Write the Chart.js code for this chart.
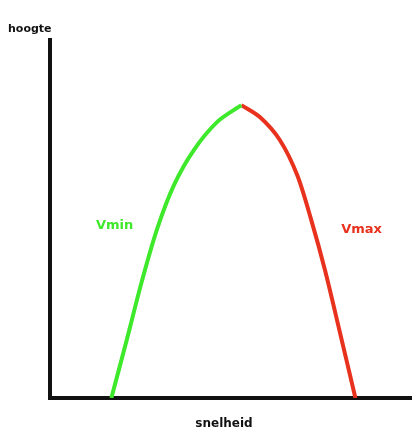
<!DOCTYPE html>
<html>
<head>
<meta charset="utf-8">
<script src="https://cdn.jsdelivr.net/npm/chart.js@4.4.0/dist/chart.umd.min.js"></script>
<style>
  html, body { margin: 0; padding: 0; background: #fff; }
  #wrap { width: 414px; height: 435px; position: relative; }
</style>
</head>
<body>
<div id="wrap"><canvas id="chart"></canvas></div>
<script>
// curve (x = snelheid, y = hoogte, both 0..100)
const vminX = [17.0, 21.2, 25.5, 29.7, 34.3, 39.8, 46.4, 53.0];
const vminY = [0, 16.0, 32.8, 47.3, 59.4, 69.2, 77.2, 81.8];
const vmaxX = [53.0, 58.2, 63.7, 68.5, 72.4, 76.2, 80.2, 84.6];
const vmaxY = [81.8, 78.4, 72.0, 62.2, 49.6, 35.6, 18.8, 0];

const yTitle = "hoogte";
const xTitle = "snelheid";
const seriesLabels = ["Vmin", "Vmax"];

const green = "#3ee82a";
const red = "#e8321e";

const toPoints = (xs, ys) => xs.map((x, i) => ({ x, y: ys[i] }));

// text labels drawn on top of the chart
const labelPlugin = {
    id: "labels",
    afterDraw(chart) {
        const c = chart.ctx;
        const xs = chart.scales.x, ys = chart.scales.y;
        const area = chart.chartArea;
        c.save();
        c.font = "bold 13px 'DejaVu Sans'";
        c.textAlign = "center";
        c.textBaseline = "middle";
        c.fillStyle = green;
        c.fillText(seriesLabels[0], xs.getPixelForValue(17.9), ys.getPixelForValue(48.2));
        c.fillStyle = red;
        c.fillText(seriesLabels[1], xs.getPixelForValue(86.3), ys.getPixelForValue(47.0));
        c.fillStyle = "#111";
        c.font = "bold 11px 'DejaVu Sans'";
        c.textAlign = "left";
        c.fillText(yTitle, 8, area.top - 11);
        c.font = "bold 12px 'DejaVu Sans'";
        c.textAlign = "center";
        c.fillText(xTitle, 224, area.bottom + 26);
        c.restore();
    }
};

new Chart(document.getElementById("chart"), {
    type: "scatter",
    data: {
        datasets: [
            {
                data: toPoints(vminX, vminY),
                borderColor: green,
                borderWidth: 4,
                showLine: true,
                pointRadius: 0,
                tension: 0.3
            },
            {
                data: toPoints(vmaxX, vmaxY),
                borderColor: red,
                borderWidth: 4,
                showLine: true,
                pointRadius: 0,
                tension: 0.3
            }
        ]
    },
    options: {
        responsive: true,
        maintainAspectRatio: false,
        animation: false,
        layout: { padding: { left: 42, top: 40, right: 3, bottom: 29 } },
        scales: {
            x: {
                type: "linear", min: 0, max: 100,
                grid: { display: false },
                ticks: { display: false },
                border: { display: true, color: "#111", width: 4 }
            },
            y: {
                type: "linear", min: 0, max: 100,
                grid: { display: false },
                ticks: { display: false },
                border: { display: true, color: "#111", width: 4 }
            }
        },
        plugins: {
            legend: { display: false },
            tooltip: { enabled: false }
        }
    },
    plugins: [labelPlugin]
});
</script>
</body>
</html>
